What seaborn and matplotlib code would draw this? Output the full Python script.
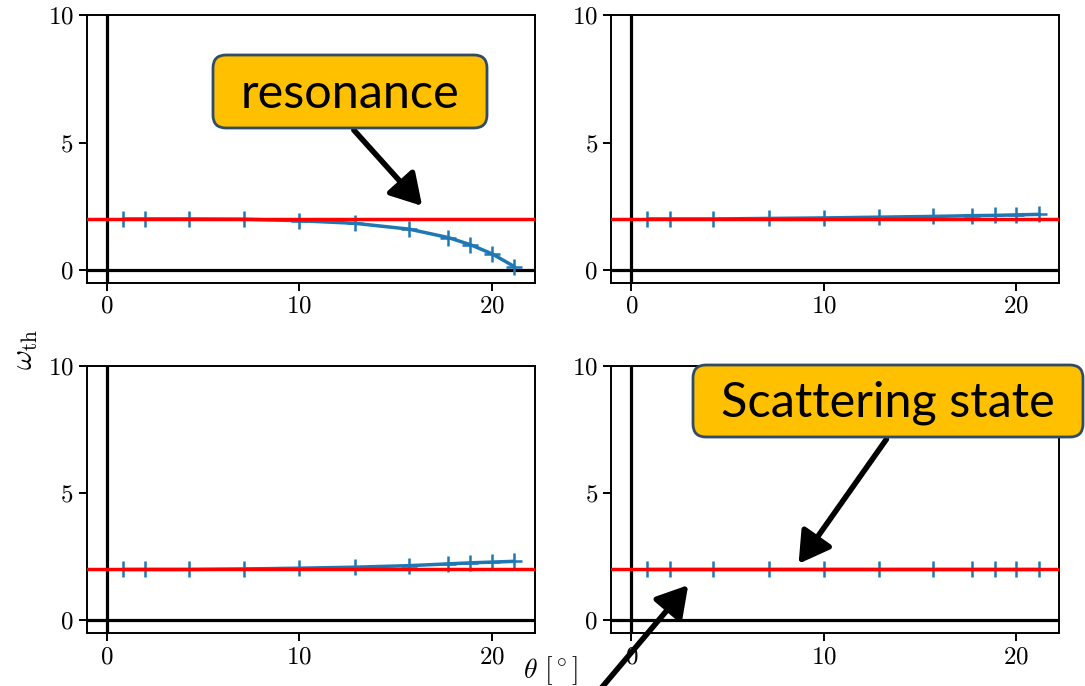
import matplotlib
matplotlib.use("Agg")
import matplotlib.pyplot as plt
import seaborn as sns
import numpy as np
import pandas as pd
from matplotlib.patches import FancyArrowPatch, FancyBboxPatch

# ---- data ----
theta = [0.84, 1.99, 4.27, 7.14, 10.0, 12.87, 15.71, 17.74, 18.89, 20.02, 21.18]
omega_tl = [2.00, 2.00, 2.00, 1.99, 1.93, 1.83, 1.60, 1.27, 0.99, 0.63, 0.13]
omega_tr = [2.00, 2.00, 2.00, 2.02, 2.04, 2.07, 2.10, 2.13, 2.14, 2.16, 2.18]
omega_bl = [2.00, 2.00, 2.00, 2.02, 2.05, 2.09, 2.15, 2.22, 2.26, 2.29, 2.32]
omega_br = [2.00, 2.00, 2.00, 2.00, 2.00, 2.00, 2.00, 2.00, 2.00, 2.00, 2.00]
threshold = 2.0
yticks = [0, 5, 10]
xticks = [0, 10, 20]

sns.set_theme(style="ticks")
plt.rcParams.update({
    "font.family": "serif",
    "font.serif": ["cmr10", "DejaVu Serif"],
    "mathtext.fontset": "cm",
    "axes.formatter.use_mathtext": True,
    "axes.linewidth": 1.4,
    "axes.edgecolor": "black",
    "text.color": "black",
    "xtick.major.size": 6,
    "ytick.major.size": 6,
    "xtick.major.width": 1.4,
    "ytick.major.width": 1.4,
    "xtick.labelsize": 18,
    "ytick.labelsize": 18,
    "xtick.color": "black",
    "ytick.color": "black",
})

W, H = 1085, 686
fig, axes = plt.subplots(2, 2, figsize=(W / 100, H / 100), dpi=100)
fig.subplots_adjust(left=0.080, right=0.976, top=0.978, bottom=0.077,
                    wspace=0.17, hspace=0.31)

blue = "#1f77b4"
series = [omega_tl, omega_tr, omega_bl, omega_br]
for ax, yv in zip(axes.flat, series):
    ax.axvline(0, color="black", lw=2.3, zorder=1)
    ax.axhline(0, color="black", lw=2.3, zorder=1)
    df = pd.DataFrame({"theta": theta, "omega": yv})
    sns.lineplot(data=df, x="theta", y="omega", ax=ax, color=blue,
                 lw=2.5, marker="+", markersize=12, mew=1.8,
                 mec=blue, mfc=blue, zorder=2)
    ax.axhline(threshold, color="red", lw=2.5, zorder=3)
    ax.set_ylim(-0.5, 10)
    ax.set_yticks(yticks)
    ax.set_xticks(xticks)
    ax.set_xlabel("")
    ax.set_ylabel("")
    for s in ax.spines.values():
        s.set_visible(True)
        s.set_color("black")

fig.text(0.024, 0.49, r"$\omega_{\mathrm{th}}$", rotation=90, fontsize=22,
         ha="center", va="center")
fig.text(0.507, 0.022, r"$\theta\ [^\circ]$", fontsize=20,
         ha="center", va="center")

# arrows (figure pixels -> fraction)
arrows = [((352, 128), (424, 208)),
          ((888, 437), (797, 566)),
          ((598, 692), (690, 583))]
for a, b in arrows:
    p = FancyArrowPatch((a[0] / W, 1 - a[1] / H), (b[0] / W, 1 - b[1] / H),
                        transform=fig.transFigure,
                        arrowstyle="-|>,head_width=0.5,head_length=0.85",
                        mutation_scale=22, lw=4, color="black", zorder=4)
    fig.add_artist(p)

# callout boxes (left, top, right, bottom in figure pixels)
callouts = [("resonance", (213, 55, 487, 128)),
            ("Scattering state", (693, 365, 1083, 437))]
for label, (l, t, r, b) in callouts:
    box = FancyBboxPatch((l / W, 1 - b / H), (r - l) / W, (b - t) / H,
                         boxstyle="round,pad=0,rounding_size=0.012",
                         transform=fig.transFigure, fc="#FFC000",
                         ec="#2F4B66", lw=2, zorder=5,
                         mutation_aspect=W / H)
    fig.add_artist(box)
    fig.text((l + r) / 2 / W, 1 - ((t + b) / 2 + 2) / H, label,
             family="Lato", fontsize=35, color="black",
             ha="center", va="center", zorder=6)

fig.savefig("out.png", dpi=100)
